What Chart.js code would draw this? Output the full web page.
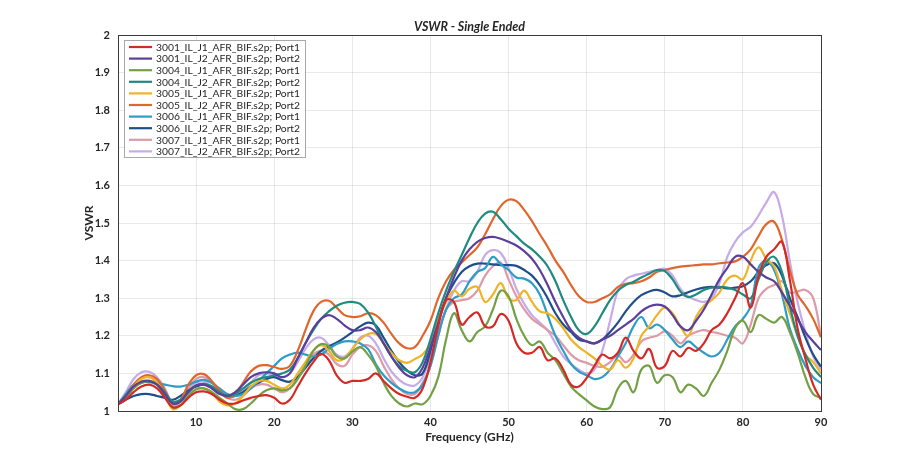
<!DOCTYPE html>
<html>
<head>
<meta charset="utf-8">
<script src="https://cdn.jsdelivr.net/npm/chart.js@4/dist/chart.umd.min.js"></script>
<style>
  html, body { margin: 0; padding: 0; background: #fff; }
  #wrap { width: 910px; height: 464px; }
</style>
</head>
<body>
<div id="wrap"><canvas id="chart-vswr" width="910" height="464"></canvas></div>
<script>
// Frequências (GHz), 1 GHz de passo
const FREQ = Array.from({ length: 91 }, (_, i) => i);

const Y_TICKS = [1, 1.1, 1.2, 1.3, 1.4, 1.5, 1.6, 1.7, 1.8, 1.9, 2];
const X_TICKS = [10, 20, 30, 40, 50, 60, 70, 80, 90];

const NOMES = [
  "3001_IL_J1_AFR_BIF.s2p; Port1",
  "3001_IL_J2_AFR_BIF.s2p; Port2",
  "3004_IL_J1_AFR_BIF.s2p; Port1",
  "3004_IL_J2_AFR_BIF.s2p; Port2",
  "3005_IL_J1_AFR_BIF.s2p; Port1",
  "3005_IL_J2_AFR_BIF.s2p; Port2",
  "3006_IL_J1_AFR_BIF.s2p; Port1",
  "3006_IL_J2_AFR_BIF.s2p; Port2",
  "3007_IL_J1_AFR_BIF.s2p; Port1",
  "3007_IL_J2_AFR_BIF.s2p; Port2",
];

const CORES = [
  "#d42a26", "#5b3f9b", "#74a045", "#1f8a80", "#eeb426",
  "#e0662c", "#2d9cc6", "#1e4f8a", "#dd9aa8", "#c7aae8",
];

// VSWR, um valor por GHz (0..90)
const S3001_P1 = [
  1.018, 1.03, 1.05, 1.065, 1.07, 1.06, 1.035, 1.01, 1.015, 1.035,
  1.05, 1.052, 1.045, 1.03, 1.02, 1.02, 1.028, 1.035, 1.04, 1.042,
  1.035, 1.02, 1.03, 1.065, 1.1, 1.13, 1.152, 1.135, 1.095, 1.075,
  1.08, 1.08, 1.085, 1.1, 1.08, 1.06, 1.045, 1.038, 1.035, 1.06,
  1.13, 1.225, 1.295, 1.29, 1.23, 1.25, 1.262, 1.225, 1.225, 1.258,
  1.24, 1.18, 1.155, 1.155, 1.17, 1.135, 1.14, 1.11, 1.07, 1.065,
  1.088, 1.12, 1.15, 1.14, 1.155, 1.195, 1.16, 1.14, 1.165, 1.115,
  1.12, 1.16, 1.145, 1.168, 1.16, 1.18, 1.215, 1.23, 1.26, 1.3,
  1.34, 1.275, 1.36, 1.41, 1.43, 1.45, 1.35, 1.22, 1.14, 1.07,
  1.03,
];
const S3001_P2 = [
  1.018, 1.04, 1.065, 1.078, 1.08, 1.07, 1.045, 1.02, 1.025, 1.05,
  1.068, 1.07, 1.06, 1.045, 1.04, 1.05, 1.07, 1.09, 1.1, 1.103,
  1.1, 1.09, 1.1, 1.14, 1.18, 1.22, 1.245, 1.255, 1.245, 1.228,
  1.215, 1.215, 1.222, 1.21, 1.18, 1.145, 1.115, 1.095, 1.09, 1.115,
  1.17, 1.235, 1.3, 1.355, 1.4, 1.43, 1.45, 1.46, 1.463, 1.458,
  1.45, 1.44, 1.425, 1.405, 1.375, 1.335, 1.29, 1.25, 1.215, 1.195,
  1.185, 1.18, 1.19, 1.2, 1.215, 1.23, 1.245, 1.265, 1.278, 1.283,
  1.278, 1.255, 1.225, 1.215, 1.24, 1.27, 1.31, 1.35, 1.38, 1.41,
  1.41, 1.39, 1.37, 1.355, 1.345, 1.315, 1.28, 1.245, 1.21, 1.185,
  1.162,
];
const S3004_P1 = [
  1.018, 1.035, 1.06, 1.075, 1.08, 1.07, 1.04, 1.01, 1.015, 1.04,
  1.058, 1.06, 1.05, 1.035, 1.02, 1.005, 1.005, 1.02, 1.04, 1.055,
  1.06, 1.055, 1.06, 1.085, 1.12, 1.16, 1.178, 1.172, 1.145, 1.14,
  1.158, 1.17, 1.15, 1.12, 1.075, 1.04, 1.02, 1.012, 1.02, 1.018,
  1.04, 1.09, 1.19, 1.26, 1.215, 1.185, 1.21, 1.225, 1.27, 1.32,
  1.305, 1.245, 1.2, 1.175, 1.185, 1.155, 1.135, 1.1, 1.065, 1.045,
  1.028, 1.012, 1.005, 1.01, 1.06, 1.08, 1.05, 1.11, 1.12, 1.075,
  1.095, 1.09, 1.05, 1.07, 1.06, 1.04, 1.075, 1.11, 1.16, 1.22,
  1.24, 1.21, 1.255, 1.245, 1.235, 1.25, 1.21, 1.155, 1.09, 1.045,
  1.035,
];
const S3004_P2 = [
  1.018, 1.04, 1.065, 1.075, 1.078, 1.07, 1.05, 1.025, 1.03, 1.05,
  1.068, 1.072, 1.065, 1.05, 1.04, 1.045, 1.06, 1.075, 1.085, 1.09,
  1.095, 1.1, 1.11, 1.14, 1.18, 1.215, 1.245, 1.265, 1.28, 1.288,
  1.29, 1.285, 1.262, 1.225, 1.18, 1.145, 1.12, 1.107, 1.103, 1.13,
  1.19, 1.26, 1.32, 1.37, 1.415, 1.46, 1.5, 1.525, 1.53, 1.51,
  1.485, 1.465, 1.445, 1.43, 1.41, 1.385, 1.345, 1.295, 1.25, 1.215,
  1.205, 1.225, 1.26, 1.295, 1.32, 1.335, 1.344, 1.355, 1.365, 1.375,
  1.372, 1.35, 1.318, 1.303, 1.31, 1.322, 1.328, 1.33, 1.328, 1.322,
  1.31, 1.3, 1.35, 1.395, 1.41, 1.37, 1.28, 1.2, 1.15, 1.115,
  1.09,
];
const S3005_P1 = [
  1.018, 1.04, 1.065, 1.085, 1.09, 1.075, 1.045, 1.005, 1.015, 1.04,
  1.058, 1.06, 1.05, 1.025, 1.015, 1.02, 1.04, 1.065, 1.08, 1.08,
  1.07, 1.06, 1.07, 1.1, 1.13, 1.16, 1.175, 1.16, 1.135, 1.14,
  1.165, 1.19, 1.205, 1.205, 1.18, 1.155, 1.135, 1.128, 1.138, 1.15,
  1.18, 1.24, 1.29, 1.32, 1.305, 1.325, 1.33, 1.29, 1.31, 1.34,
  1.3, 1.295, 1.32, 1.29, 1.265, 1.26, 1.245, 1.22, 1.19, 1.17,
  1.155, 1.14, 1.12, 1.11, 1.135, 1.115, 1.14, 1.2, 1.225, 1.255,
  1.275, 1.26, 1.225, 1.2, 1.25, 1.28, 1.295, 1.315, 1.35, 1.36,
  1.35, 1.4, 1.435, 1.405, 1.385, 1.32, 1.26, 1.2, 1.15, 1.13,
  1.1,
];
const S3005_P2 = [
  1.018, 1.04, 1.07, 1.09, 1.095, 1.085, 1.055, 1.02, 1.03, 1.07,
  1.095, 1.098, 1.08, 1.055, 1.035, 1.045, 1.075, 1.105, 1.12, 1.122,
  1.117, 1.112, 1.12, 1.16, 1.215, 1.265, 1.29, 1.293, 1.275, 1.255,
  1.25, 1.252, 1.26, 1.255, 1.235, 1.205, 1.18, 1.167, 1.17, 1.2,
  1.24, 1.3, 1.345, 1.375, 1.395, 1.415, 1.435, 1.47, 1.51, 1.545,
  1.562, 1.558, 1.535, 1.505, 1.47, 1.437, 1.4, 1.37, 1.335, 1.305,
  1.29, 1.29, 1.3, 1.31, 1.33, 1.338, 1.34, 1.345, 1.355, 1.37,
  1.375, 1.38, 1.384, 1.386, 1.388, 1.39, 1.39, 1.393, 1.395, 1.398,
  1.41, 1.43, 1.465, 1.497, 1.503, 1.455, 1.375, 1.31, 1.28, 1.245,
  1.196,
];
const S3006_P1 = [
  1.018, 1.045, 1.07, 1.078, 1.077, 1.074, 1.07, 1.066, 1.065, 1.07,
  1.078, 1.083, 1.075, 1.06, 1.045, 1.04, 1.045, 1.06, 1.08, 1.1,
  1.12, 1.14, 1.15, 1.155, 1.15, 1.145, 1.15, 1.165, 1.178, 1.185,
  1.185, 1.18, 1.165, 1.125, 1.095, 1.075, 1.06, 1.05, 1.05, 1.07,
  1.12, 1.2, 1.27, 1.3, 1.31, 1.345, 1.37, 1.38, 1.41, 1.39,
  1.375, 1.355, 1.352, 1.34, 1.31, 1.255, 1.2, 1.16, 1.125, 1.105,
  1.095, 1.085, 1.09, 1.11, 1.145, 1.18, 1.225, 1.25, 1.22, 1.23,
  1.215, 1.19, 1.17, 1.185, 1.17, 1.155, 1.145, 1.155, 1.19, 1.225,
  1.245, 1.28, 1.38, 1.4, 1.375, 1.31, 1.22, 1.165, 1.12, 1.09,
  1.074,
];
const S3006_P2 = [
  1.018, 1.03, 1.04, 1.045, 1.045, 1.04, 1.035, 1.03, 1.04, 1.055,
  1.065, 1.07, 1.065, 1.05, 1.04, 1.04, 1.05, 1.065, 1.075, 1.085,
  1.09, 1.082, 1.078, 1.09, 1.115, 1.14, 1.16, 1.172, 1.182, 1.195,
  1.21, 1.225, 1.235, 1.228, 1.195, 1.16, 1.13, 1.108, 1.095, 1.1,
  1.16, 1.24, 1.3, 1.34, 1.37, 1.385, 1.392, 1.392, 1.39, 1.388,
  1.388, 1.386, 1.375, 1.36, 1.335, 1.3, 1.26, 1.23, 1.21, 1.19,
  1.185, 1.18, 1.19, 1.21, 1.235, 1.265, 1.29, 1.308, 1.318, 1.322,
  1.315, 1.305, 1.308, 1.316, 1.323, 1.328, 1.33, 1.328, 1.326, 1.328,
  1.332, 1.345, 1.37, 1.388, 1.393, 1.36, 1.3, 1.25, 1.195, 1.15,
  1.118,
];
const S3007_P1 = [
  1.018, 1.04, 1.07, 1.088, 1.09, 1.08, 1.05, 1.015, 1.025, 1.06,
  1.085, 1.09, 1.075, 1.055, 1.035, 1.03, 1.04, 1.06, 1.07, 1.07,
  1.06, 1.05, 1.06, 1.09, 1.12, 1.15, 1.16, 1.15, 1.125, 1.12,
  1.15, 1.17, 1.175, 1.16, 1.12, 1.085, 1.06, 1.045, 1.045, 1.075,
  1.12, 1.2, 1.27, 1.29, 1.295, 1.3, 1.32, 1.36, 1.385, 1.395,
  1.35, 1.305, 1.27, 1.245, 1.23, 1.215, 1.2, 1.175, 1.15, 1.135,
  1.128, 1.12, 1.118, 1.13, 1.148, 1.13, 1.15, 1.185, 1.195, 1.2,
  1.212, 1.2, 1.18, 1.2, 1.21, 1.215, 1.21, 1.206, 1.2, 1.195,
  1.18, 1.23, 1.3, 1.325, 1.335, 1.345, 1.315, 1.318, 1.322, 1.3,
  1.2,
];
const S3007_P2 = [
  1.018, 1.05, 1.085, 1.103, 1.104, 1.09, 1.06, 1.02, 1.025, 1.055,
  1.075, 1.078, 1.065, 1.05, 1.04, 1.04, 1.055, 1.075, 1.095, 1.1,
  1.095, 1.09, 1.1, 1.13, 1.165, 1.19, 1.195, 1.175, 1.15, 1.145,
  1.165, 1.195, 1.2, 1.18, 1.14, 1.105, 1.083, 1.07, 1.068, 1.09,
  1.145, 1.21, 1.27, 1.32, 1.345, 1.345, 1.37, 1.415, 1.428, 1.42,
  1.38, 1.325, 1.285, 1.255, 1.235, 1.215, 1.18, 1.145, 1.125, 1.11,
  1.1, 1.11, 1.16, 1.24, 1.32, 1.35, 1.36, 1.365, 1.37, 1.375,
  1.378, 1.36, 1.325, 1.305, 1.295, 1.29, 1.3, 1.34, 1.41, 1.45,
  1.475, 1.49, 1.52, 1.555, 1.582, 1.52, 1.4, 1.29, 1.21, 1.145,
  1.11,
];

const SERIES = [
  S3001_P1, S3001_P2, S3004_P1, S3004_P2, S3005_P1,
  S3005_P2, S3006_P1, S3006_P2, S3007_P1, S3007_P2,
];

const FONTE = "Lato, 'Open Sans', sans-serif";
const COR_TEXTO = "#262626";

// Título, rótulos dos eixos, caixa do gráfico e legenda interna (estilo MATLAB)
const decoracao = {
  id: "decoracao",
  afterDraw(chart) {
    const { ctx, chartArea: a } = chart;
    ctx.save();

    ctx.strokeStyle = "#3a3a3a";
    ctx.lineWidth = 1;
    ctx.strokeRect(a.left + 0.5, a.top + 0.5, a.right - a.left, a.bottom - a.top);

    ctx.fillStyle = COR_TEXTO;
    ctx.textAlign = "center";
    ctx.textBaseline = "middle";
    ctx.font = `italic bold 12.5px ${FONTE}`;
    ctx.fillText("VSWR - Single Ended", (a.left + a.right) / 2, a.top - 8);

    ctx.font = `bold 12px ${FONTE}`;
    ctx.fillText("Frequency (GHz)", (a.left + a.right) / 2, a.bottom + 26);

    ctx.save();
    ctx.translate(a.left - 29, (a.top + a.bottom) / 2);
    ctx.rotate(-Math.PI / 2);
    ctx.fillText("VSWR", 0, 0);
    ctx.restore();

    // legenda no canto superior esquerdo
    const x0 = a.left + 6;
    const y0 = a.top + 5;
    const passo = 11.6;
    const n = chart.data.datasets.length;
    ctx.fillStyle = "#fff";
    ctx.fillRect(x0, y0, 181, passo * n + 1);
    ctx.strokeStyle = "#a8a8a8";
    ctx.strokeRect(x0 + 0.5, y0 + 0.5, 181, passo * n + 1);
    ctx.font = `10.3px ${FONTE}`;
    ctx.textAlign = "left";
    chart.data.datasets.forEach((ds, i) => {
      const y = y0 + 7 + i * passo;
      ctx.strokeStyle = ds.borderColor;
      ctx.lineWidth = 2.2;
      ctx.beginPath();
      ctx.moveTo(x0 + 5, y);
      ctx.lineTo(x0 + 28, y);
      ctx.stroke();
      ctx.fillStyle = COR_TEXTO;
      ctx.fillText(ds.label, x0 + 32, y + 0.5);
    });

    ctx.restore();
  },
};

new Chart(document.getElementById("chart-vswr"), {
  type: "line",
  data: {
    datasets: SERIES.map((valores, i) => ({
      label: NOMES[i],
      data: FREQ.map((f, k) => ({ x: f, y: valores[k] })),
      borderColor: CORES[i],
      backgroundColor: CORES[i],
      borderWidth: 2.2,
      pointRadius: 0,
      tension: 0.4,
      fill: false,
    })),
  },
  options: {
    responsive: false,
    animation: false,
    layout: { padding: { left: 0, top: 35, right: 89, bottom: 0 } },
    plugins: {
      legend: { display: false },
      title: { display: false },
      tooltip: { enabled: false },
    },
    scales: {
      x: {
        type: "linear",
        min: 0,
        max: 90,
        afterBuildTicks: (s) => { s.ticks = X_TICKS.map((v) => ({ value: v })); },
        afterFit: (s) => { s.height = 53; },
        grid: { color: "rgba(38,38,38,0.1)", drawTicks: false },
        border: { display: false },
        ticks: {
          padding: 5,
          color: COR_TEXTO,
          font: { family: FONTE, size: 11, weight: "bold" },
        },
      },
      y: {
        min: 1,
        max: 2,
        afterBuildTicks: (s) => { s.ticks = Y_TICKS.map((v) => ({ value: v })); },
        afterFit: (s) => { s.width = 118; },
        grid: { color: "rgba(38,38,38,0.1)", drawTicks: false },
        border: { display: false },
        ticks: {
          padding: 8,
          color: COR_TEXTO,
          font: { family: FONTE, size: 11, weight: "bold" },
          callback: (v) => String(Math.round(v * 10) / 10),
        },
      },
    },
  },
  plugins: [decoracao],
});
</script>
</body>
</html>
